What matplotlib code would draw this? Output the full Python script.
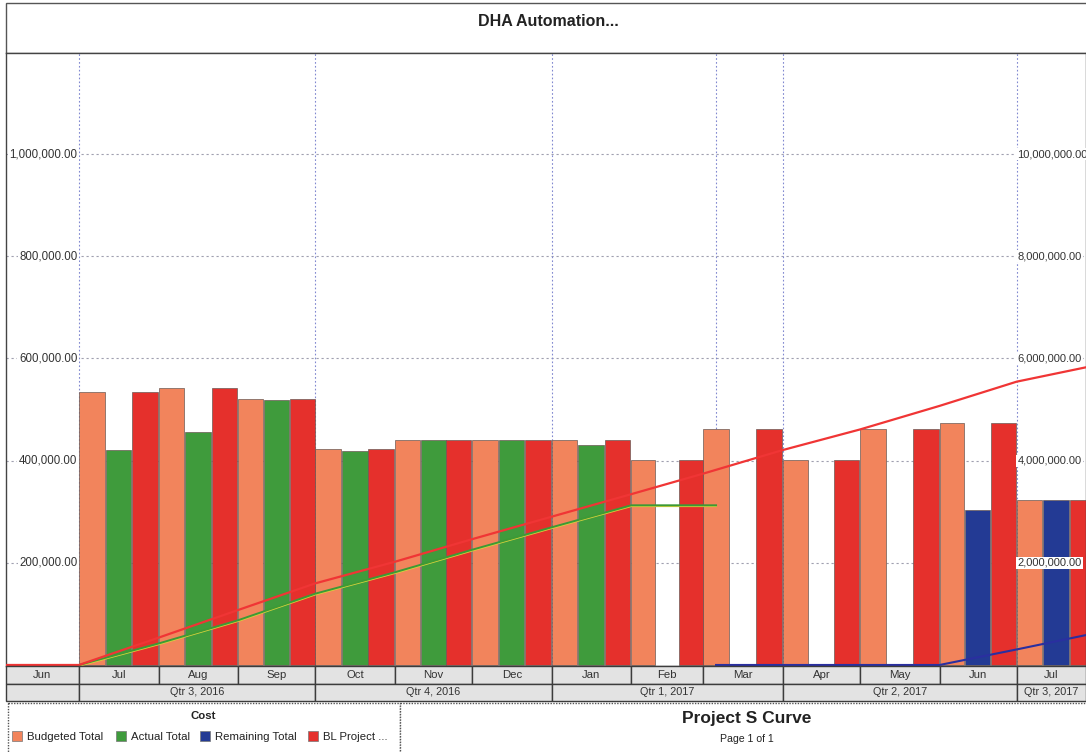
import numpy as np
import matplotlib
matplotlib.use("Agg")
import matplotlib.pyplot as plt
import matplotlib.transforms as mtransforms
from matplotlib.patches import Rectangle

plt.rcParams["font.family"] = ["Liberation Sans", "DejaVu Sans"]

# ---- data -----------------------------------------------------------------
title = "DHA Automation..."
month_labels = ["Jun", "Jul", "Aug", "Sep", "Oct", "Nov", "Dec",
                "Jan", "Feb", "Mar", "Apr", "May", "Jun", "Jul"]
first_month = "2016-06"
last_month = "2017-07"
data_date = "2017-03-06"

nan = np.nan
budgeted_total = [nan, 535000, 542000, 521000, 423000, 441000, 441000,
                  441000, 402000, 462000, 402000, 462000, 474000, 323000]
actual_total = [nan, 421000, 456000, 519000, 419000, 440000, 440000,
                431000, nan, nan, nan, nan, nan, nan]
remaining_total = [nan, nan, nan, nan, nan, nan, nan,
                   nan, nan, nan, nan, nan, 304000, 323000]
bl_project_total = [nan, 535000, 542000, 521000, 423000, 441000, 441000,
                    441000, 402000, 462000, 402000, 462000, 474000, 323000]

quarter_labels = ["", "Qtr 3, 2016", "Qtr 4, 2016", "Qtr 1, 2017",
                  "Qtr 2, 2017", "Qtr 3, 2017"]
quarter_starts = ["2016-04-01", "2016-07-01", "2016-10-01", "2017-01-01",
                  "2017-04-01", "2017-07-01", "2017-10-01"]

left_ticks = [200000, 400000, 600000, 800000, 1000000]
right_ticks = [2000000, 4000000, 6000000, 8000000, 10000000]

series_names = ["Budgeted Total", "Actual Total", "Remaining Total", "BL Project ..."]
series_colors = ["#F2845C", "#3F9B3C", "#233A94", "#E5302C"]

# ---- time helpers -----------------------------------------------------------
origin = np.datetime64("2016-07-01")


def day(d):
    return (np.datetime64(d, "D") - origin).astype(int)


months = np.arange(np.datetime64(first_month), np.datetime64(last_month) + 1,
                   dtype="datetime64[M]")
m_start = np.array([day(m.astype("datetime64[D]")) for m in months])
m_end = np.array([day((m + 1).astype("datetime64[D]")) for m in months])
m_len = m_end - m_start
dd = day(data_date)

W, H = 1086, 752
fig = plt.figure(figsize=(W / 100, H / 100), dpi=100)
fig.patch.set_facecolor("white")

xmin, xmax = -28.4, 392.0

ax = fig.add_axes([6 / W, (H - 666) / H, 1080 / W, (666 - 53) / H])
ax.set_xlim(xmin, xmax)
ax.set_ylim(-2000, 1198000)
ax.set_xticks([])
ax.set_yticks([])
for s in ax.spines.values():
    s.set_color("#444444")
    s.set_linewidth(1.0)

# grid
for v in left_ticks:
    ax.axhline(v, color="#a0a0b0", lw=0.8, ls=(0, (2, 2.5)), zorder=1)
for q in quarter_starts[1:-1] + [data_date]:
    ax.axvline(day(q), color="#8088d0", lw=0.8, ls=(0, (1.5, 2)), zorder=1)

# bars: three slots per month (budget / actual-or-remaining / baseline)
third = m_len / 3.0
bw = third * 0.97
ec = "#6b5a55"
ax.bar(m_start, budgeted_total, width=bw, align="edge",
       color=series_colors[0], edgecolor=ec, lw=0.5, zorder=2)
ax.bar(m_start + third, actual_total, width=bw, align="edge",
       color=series_colors[1], edgecolor=ec, lw=0.5, zorder=2)
ax.bar(m_start + third, remaining_total, width=bw, align="edge",
       color=series_colors[2], edgecolor=ec, lw=0.5, zorder=2)
ax.bar(m_start + 2 * third, bl_project_total, width=bw, align="edge",
       color=series_colors[3], edgecolor=ec, lw=0.5, zorder=2)

# left tick labels inside the plot
for v in left_ticks:
    ax.annotate(f"{v:,.2f}", xy=(0, v), xytext=(-1.0, 0),
                textcoords="offset points", ha="right", va="center",
                fontsize=8.3, color="#333333", zorder=5,
                bbox=dict(boxstyle="square,pad=0.15", fc="white", ec="none"))

# cumulative curves on the right-hand scale
ax2 = ax.twinx()
ax2.set_ylim(-20000, 11980000)
ax2.set_yticks([])
ax2.set_xlim(xmin, xmax)
for s in ax2.spines.values():
    s.set_visible(False)

act_vals = np.nan_to_num(actual_total)
n_act = int(np.searchsorted(m_end, dd))  # months closed before the data date
act_cum = np.cumsum(act_vals[:n_act])
gx = np.r_[m_start[0], m_end[:n_act], dd]
gy = np.r_[0, act_cum, act_cum[-1]]
shift = mtransforms.offset_copy(ax2.transData, fig=fig, x=0, y=-0.7,
                                units="points")
ax2.plot(gx, gy, color="#D8D23C", lw=1.2, zorder=3, transform=shift)
ax2.plot(gx, gy, color="#3D9A35", lw=1.4, zorder=3)

bl_cum = np.cumsum(np.nan_to_num(bl_project_total))
ax2.plot(np.r_[m_start[0], m_end], np.r_[0, bl_cum],
         color="#F03535", lw=1.6, zorder=4)

rem_vals = np.nan_to_num(remaining_total)
rem_cum = np.cumsum(rem_vals[n_act:])
ax2.plot(np.r_[dd, m_end[n_act:]], np.r_[0, rem_cum],
         color="#2A2FA0", lw=1.5, zorder=3)

for v in right_ticks:
    ax2.annotate(f"{v:,.2f}", xy=(365, v), xytext=(0.5, 0),
                 textcoords="offset points", ha="left", va="center",
                 fontsize=8.0, color="#333333", zorder=6,
                 bbox=dict(boxstyle="square,pad=0.1", fc="white", ec="none"))

# ---- time-scale header rows ---------------------------------------------------
hx = fig.add_axes([6 / W, (H - 701) / H, 1080 / W, 35 / H])
hx.set_xlim(xmin, xmax)
hx.set_ylim(0, 2)
hx.axis("off")
cell_fc = "#E3E3E3"
cell_ec = "#3c3c3c"
for lab, a, b in zip(month_labels, m_start, m_end):
    a0, b0 = max(a, xmin), min(b, xmax)
    hx.add_patch(Rectangle((a0, 1), b0 - a0, 1, fc=cell_fc, ec=cell_ec,
                           lw=1.0, clip_on=False))
    hx.text((a0 + b0) / 2, 1.5, lab, ha="center", va="center",
            fontsize=8.2, color="#333333")
for lab, a, b in zip(quarter_labels, quarter_starts[:-1], quarter_starts[1:]):
    a0, b0 = max(day(a), xmin), min(day(b), xmax)
    hx.add_patch(Rectangle((a0, 0), b0 - a0, 1, fc=cell_fc, ec=cell_ec,
                           lw=1.0, clip_on=False))
    hx.text((a0 + b0) / 2, 0.5, lab, ha="center", va="center",
            fontsize=7.8, color="#333333")

# ---- page frame, title and footer ---------------------------------------------
ov = fig.add_axes([0, 0, 1, 1], zorder=-1)
ov.set_xlim(0, W)
ov.set_ylim(H, 0)
ov.axis("off")
frame = "#555555"
ov.add_patch(Rectangle((6, 3), 1090, 50, fc="white", ec=frame, lw=1.0))
ov.text(548, 21, title, ha="center", va="center", fontsize=11.5,
        fontweight="bold", color="#222222")
ov.add_patch(Rectangle((8, 703), 392, 60, fc="white", ec=frame, lw=1.0,
                       ls=(0, (1, 1))))
ov.add_patch(Rectangle((400, 703), 700, 60, fc="white", ec=frame, lw=1.0,
                       ls=(0, (1, 1))))
ov.text(203, 716, "Cost", ha="center", va="center", fontsize=8.2,
        fontweight="bold", color="#222222")
legend_x = [12, 116, 200, 308]
for name, col, x0 in zip(series_names, series_colors, legend_x):
    ov.add_patch(Rectangle((x0, 731), 10, 10, fc=col, ec="#777777", lw=0.5))
    ov.text(x0 + 15, 736.5, name, ha="left", va="center", fontsize=8.2,
            color="#222222")
ov.text(747, 718, "Project S Curve", ha="center", va="center", fontsize=12.5,
        fontweight="bold", color="#222222")
ov.text(747, 739, "Page 1 of 1", ha="center", va="center", fontsize=7.6,
        color="#222222")

fig.savefig("out.png", dpi=100)
